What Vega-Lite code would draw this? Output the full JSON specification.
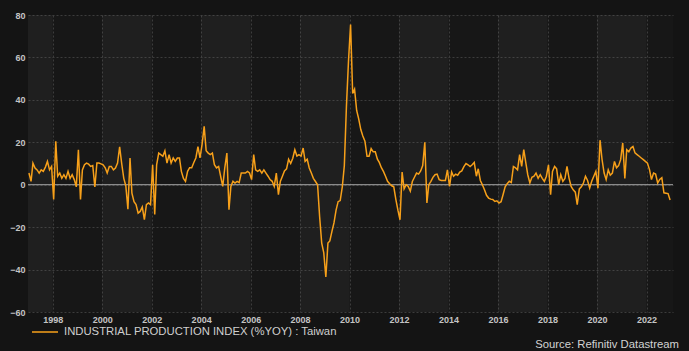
{
"$schema": "https://vega.github.io/schema/vega-lite/v6.json",
"width": 645, "height": 297,
"autosize": {"type": "none"},
"padding": {"left": 28, "top": 15, "right": 16, "bottom": 39},
"background": "#141414",
"config": {
  "view": {"fill": "#171717", "stroke": null},
  "font": "Liberation Sans",
  "axis": {"labelFont": "Liberation Sans", "labelFontWeight": "bold", "labelFontSize": 9, "labelColor": "#c4c4c4", "ticks": false, "domain": false, "grid": true, "gridColor": "#3c3c3c", "gridDash": [2, 2], "gridWidth": 1, "title": null}
},
"title": {"text": "Source: Refinitiv Datastream", "orient": "bottom", "anchor": "end", "frame": "group", "color": "#d2d2d2", "fontSize": 11.3, "fontWeight": "normal", "font": "Liberation Sans", "offset": 1, "dx": 6},
"datasets": {
  "bands": [
    {"start": "1997-01-01", "end": "1998-01-01"},
    {"start": "2000-01-01", "end": "2002-01-01"},
    {"start": "2004-01-01", "end": "2006-01-01"},
    {"start": "2008-01-01", "end": "2010-01-01"},
    {"start": "2012-01-01", "end": "2014-01-01"},
    {"start": "2016-01-01", "end": "2018-01-01"},
    {"start": "2020-01-01", "end": "2022-01-01"}
  ],
  "ip": [
{"date":"1997-01-15","v":5.5},{"date":"1997-02-15","v":1.6},{"date":"1997-03-15","v":10.2},{"date":"1997-04-15","v":7.9},{"date":"1997-05-15","v":7.0},{"date":"1997-06-15","v":5.5},{"date":"1997-07-15","v":7.0},{"date":"1997-08-15","v":6.3},{"date":"1997-09-15","v":8.3},{"date":"1997-10-15","v":11.0},{"date":"1997-11-15","v":7.0},{"date":"1997-12-15","v":8.6},
{"date":"1998-01-15","v":-7.0},{"date":"1998-02-15","v":20.5},{"date":"1998-03-15","v":4.0},{"date":"1998-04-15","v":5.5},{"date":"1998-05-15","v":3.0},{"date":"1998-06-15","v":4.7},{"date":"1998-07-15","v":3.0},{"date":"1998-08-15","v":6.3},{"date":"1998-09-15","v":3.0},{"date":"1998-10-15","v":4.7},{"date":"1998-11-15","v":2.4},{"date":"1998-12-15","v":-1.0},
{"date":"1999-01-15","v":16.5},{"date":"1999-02-15","v":-7.0},{"date":"1999-03-15","v":7.0},{"date":"1999-04-15","v":9.4},{"date":"1999-05-15","v":10.2},{"date":"1999-06-15","v":9.7},{"date":"1999-07-15","v":8.6},{"date":"1999-08-15","v":9.0},{"date":"1999-09-15","v":-1.1},{"date":"1999-10-15","v":10.2},{"date":"1999-11-15","v":10.2},{"date":"1999-12-15","v":9.8},
{"date":"2000-01-15","v":9.4},{"date":"2000-02-15","v":8.0},{"date":"2000-03-15","v":5.5},{"date":"2000-04-15","v":8.6},{"date":"2000-05-15","v":8.6},{"date":"2000-06-15","v":7.0},{"date":"2000-07-15","v":7.9},{"date":"2000-08-15","v":10.2},{"date":"2000-09-15","v":17.8},{"date":"2000-10-15","v":10.0},{"date":"2000-11-15","v":3.0},{"date":"2000-12-15","v":-0.5},
{"date":"2001-01-15","v":-11.5},{"date":"2001-02-15","v":12.6},{"date":"2001-03-15","v":-4.0},{"date":"2001-04-15","v":-8.0},{"date":"2001-05-15","v":-9.4},{"date":"2001-06-15","v":-13.4},{"date":"2001-07-15","v":-12.6},{"date":"2001-08-15","v":-10.5},{"date":"2001-09-15","v":-16.5},{"date":"2001-10-15","v":-9.4},{"date":"2001-11-15","v":-8.6},{"date":"2001-12-15","v":-9.4},
{"date":"2002-01-15","v":9.4},{"date":"2002-02-15","v":-14.0},{"date":"2002-03-15","v":9.4},{"date":"2002-04-15","v":14.9},{"date":"2002-05-15","v":14.2},{"date":"2002-06-15","v":13.4},{"date":"2002-07-15","v":16.0},{"date":"2002-08-15","v":10.2},{"date":"2002-09-15","v":14.2},{"date":"2002-10-15","v":10.2},{"date":"2002-11-15","v":12.6},{"date":"2002-12-15","v":11.0},
{"date":"2003-01-15","v":12.6},{"date":"2003-02-15","v":12.6},{"date":"2003-03-15","v":6.3},{"date":"2003-04-15","v":3.0},{"date":"2003-05-15","v":1.6},{"date":"2003-06-15","v":6.3},{"date":"2003-07-15","v":8.0},{"date":"2003-08-15","v":8.0},{"date":"2003-09-15","v":10.5},{"date":"2003-10-15","v":12.6},{"date":"2003-11-15","v":18.0},{"date":"2003-12-15","v":12.6},
{"date":"2004-01-15","v":19.0},{"date":"2004-02-15","v":27.5},{"date":"2004-03-15","v":16.0},{"date":"2004-04-15","v":14.9},{"date":"2004-05-15","v":14.2},{"date":"2004-06-15","v":14.9},{"date":"2004-07-15","v":9.4},{"date":"2004-08-15","v":7.9},{"date":"2004-09-15","v":8.6},{"date":"2004-10-15","v":4.0},{"date":"2004-11-15","v":-0.8},{"date":"2004-12-15","v":7.9},
{"date":"2005-01-15","v":14.9},{"date":"2005-02-15","v":-11.8},{"date":"2005-03-15","v":-0.8},{"date":"2005-04-15","v":1.6},{"date":"2005-05-15","v":0.8},{"date":"2005-06-15","v":1.6},{"date":"2005-07-15","v":1.0},{"date":"2005-08-15","v":5.5},{"date":"2005-09-15","v":5.5},{"date":"2005-10-15","v":5.5},{"date":"2005-11-15","v":6.3},{"date":"2005-12-15","v":5.5},
{"date":"2006-01-15","v":2.4},{"date":"2006-02-15","v":14.2},{"date":"2006-03-15","v":7.0},{"date":"2006-04-15","v":6.3},{"date":"2006-05-15","v":7.0},{"date":"2006-06-15","v":5.5},{"date":"2006-07-15","v":7.0},{"date":"2006-08-15","v":5.5},{"date":"2006-09-15","v":4.0},{"date":"2006-10-15","v":2.4},{"date":"2006-11-15","v":1.6},{"date":"2006-12-15","v":-0.8},
{"date":"2007-01-15","v":5.5},{"date":"2007-02-15","v":-4.7},{"date":"2007-03-15","v":1.5},{"date":"2007-04-15","v":4.0},{"date":"2007-05-15","v":6.5},{"date":"2007-06-15","v":7.5},{"date":"2007-07-15","v":12.0},{"date":"2007-08-15","v":10.0},{"date":"2007-09-15","v":12.5},{"date":"2007-10-15","v":16.5},{"date":"2007-11-15","v":13.5},{"date":"2007-12-15","v":14.2},
{"date":"2008-01-15","v":13.5},{"date":"2008-02-15","v":17.3},{"date":"2008-03-15","v":11.0},{"date":"2008-04-15","v":12.0},{"date":"2008-05-15","v":7.9},{"date":"2008-06-15","v":5.5},{"date":"2008-07-15","v":3.0},{"date":"2008-08-15","v":1.5},{"date":"2008-09-15","v":0.0},{"date":"2008-10-15","v":-15.0},{"date":"2008-11-15","v":-27.5},{"date":"2008-12-15","v":-32.0},
{"date":"2009-01-15","v":-43.5},{"date":"2009-02-15","v":-27.5},{"date":"2009-03-15","v":-26.5},{"date":"2009-04-15","v":-22.0},{"date":"2009-05-15","v":-18.0},{"date":"2009-06-15","v":-12.0},{"date":"2009-07-15","v":-8.0},{"date":"2009-08-15","v":-7.5},{"date":"2009-09-15","v":-1.0},{"date":"2009-10-15","v":9.0},{"date":"2009-11-15","v":37.0},{"date":"2009-12-15","v":58.0},
{"date":"2010-01-15","v":75.5},{"date":"2010-02-15","v":43.0},{"date":"2010-03-15","v":45.0},{"date":"2010-04-15","v":35.0},{"date":"2010-05-15","v":31.0},{"date":"2010-06-15","v":26.0},{"date":"2010-07-15","v":23.0},{"date":"2010-08-15","v":20.5},{"date":"2010-09-15","v":13.4},{"date":"2010-10-15","v":13.4},{"date":"2010-11-15","v":17.0},{"date":"2010-12-15","v":15.5},
{"date":"2011-01-15","v":15.5},{"date":"2011-02-15","v":12.0},{"date":"2011-03-15","v":10.5},{"date":"2011-04-15","v":8.0},{"date":"2011-05-15","v":6.3},{"date":"2011-06-15","v":4.0},{"date":"2011-07-15","v":1.6},{"date":"2011-08-15","v":0.5},{"date":"2011-09-15","v":-0.5},{"date":"2011-10-15","v":-1.0},{"date":"2011-11-15","v":-7.0},{"date":"2011-12-15","v":-12.0},
{"date":"2012-01-15","v":-16.5},{"date":"2012-02-15","v":6.0},{"date":"2012-03-15","v":-2.0},{"date":"2012-04-15","v":0.0},{"date":"2012-05-15","v":-0.8},{"date":"2012-06-15","v":-3.0},{"date":"2012-07-15","v":1.5},{"date":"2012-08-15","v":3.5},{"date":"2012-09-15","v":5.5},{"date":"2012-10-15","v":5.0},{"date":"2012-11-15","v":6.5},{"date":"2012-12-15","v":9.0},
{"date":"2013-01-15","v":20.0},{"date":"2013-02-15","v":-8.6},{"date":"2013-03-15","v":0.0},{"date":"2013-04-15","v":1.6},{"date":"2013-05-15","v":3.5},{"date":"2013-06-15","v":4.7},{"date":"2013-07-15","v":5.0},{"date":"2013-08-15","v":2.4},{"date":"2013-09-15","v":2.0},{"date":"2013-10-15","v":2.0},{"date":"2013-11-15","v":2.0},{"date":"2013-12-15","v":7.0},
{"date":"2014-01-15","v":-0.8},{"date":"2014-02-15","v":6.0},{"date":"2014-03-15","v":4.0},{"date":"2014-04-15","v":5.0},{"date":"2014-05-15","v":4.5},{"date":"2014-06-15","v":6.0},{"date":"2014-07-15","v":6.5},{"date":"2014-08-15","v":8.5},{"date":"2014-09-15","v":10.0},{"date":"2014-10-15","v":9.4},{"date":"2014-11-15","v":8.6},{"date":"2014-12-15","v":9.4},
{"date":"2015-01-15","v":10.5},{"date":"2015-02-15","v":4.0},{"date":"2015-03-15","v":7.5},{"date":"2015-04-15","v":2.0},{"date":"2015-05-15","v":0.0},{"date":"2015-06-15","v":-2.4},{"date":"2015-07-15","v":-5.0},{"date":"2015-08-15","v":-6.3},{"date":"2015-09-15","v":-6.8},{"date":"2015-10-15","v":-7.0},{"date":"2015-11-15","v":-7.9},{"date":"2015-12-15","v":-7.6},
{"date":"2016-01-15","v":-8.6},{"date":"2016-02-15","v":-8.0},{"date":"2016-03-15","v":-4.7},{"date":"2016-04-15","v":-1.0},{"date":"2016-05-15","v":0.5},{"date":"2016-06-15","v":1.6},{"date":"2016-07-15","v":1.0},{"date":"2016-08-15","v":8.6},{"date":"2016-09-15","v":8.0},{"date":"2016-10-15","v":7.0},{"date":"2016-11-15","v":14.2},{"date":"2016-12-15","v":8.6},
{"date":"2017-01-15","v":16.5},{"date":"2017-02-15","v":10.2},{"date":"2017-03-15","v":4.7},{"date":"2017-04-15","v":0.8},{"date":"2017-05-15","v":3.5},{"date":"2017-06-15","v":4.0},{"date":"2017-07-15","v":5.5},{"date":"2017-08-15","v":3.0},{"date":"2017-09-15","v":4.7},{"date":"2017-10-15","v":3.0},{"date":"2017-11-15","v":1.6},{"date":"2017-12-15","v":4.0},
{"date":"2018-01-15","v":9.4},{"date":"2018-02-15","v":-4.7},{"date":"2018-03-15","v":6.3},{"date":"2018-04-15","v":8.6},{"date":"2018-05-15","v":7.5},{"date":"2018-06-15","v":0.0},{"date":"2018-07-15","v":4.7},{"date":"2018-08-15","v":1.6},{"date":"2018-09-15","v":3.0},{"date":"2018-10-15","v":8.6},{"date":"2018-11-15","v":3.0},{"date":"2018-12-15","v":-0.8},
{"date":"2019-01-15","v":-2.4},{"date":"2019-02-15","v":-3.5},{"date":"2019-03-15","v":-9.4},{"date":"2019-04-15","v":-2.0},{"date":"2019-05-15","v":-1.0},{"date":"2019-06-15","v":0.8},{"date":"2019-07-15","v":4.0},{"date":"2019-08-15","v":2.0},{"date":"2019-09-15","v":-1.6},{"date":"2019-10-15","v":1.6},{"date":"2019-11-15","v":4.0},{"date":"2019-12-15","v":6.3},
{"date":"2020-01-15","v":-1.6},{"date":"2020-02-15","v":21.0},{"date":"2020-03-15","v":12.0},{"date":"2020-04-15","v":5.5},{"date":"2020-05-15","v":2.4},{"date":"2020-06-15","v":7.0},{"date":"2020-07-15","v":4.5},{"date":"2020-08-15","v":5.5},{"date":"2020-09-15","v":11.0},{"date":"2020-10-15","v":8.0},{"date":"2020-11-15","v":9.0},{"date":"2020-12-15","v":11.8},
{"date":"2021-01-15","v":19.7},{"date":"2021-02-15","v":3.0},{"date":"2021-03-15","v":16.5},{"date":"2021-04-15","v":15.5},{"date":"2021-05-15","v":17.3},{"date":"2021-06-15","v":18.0},{"date":"2021-07-15","v":15.0},{"date":"2021-08-15","v":14.2},{"date":"2021-09-15","v":13.4},{"date":"2021-10-15","v":12.6},{"date":"2021-11-15","v":11.8},{"date":"2021-12-15","v":11.0},
{"date":"2022-01-15","v":10.2},{"date":"2022-02-15","v":7.0},{"date":"2022-03-15","v":2.4},{"date":"2022-04-15","v":5.5},{"date":"2022-05-15","v":5.0},{"date":"2022-06-15","v":0.8},{"date":"2022-07-15","v":2.5},{"date":"2022-08-15","v":3.3},{"date":"2022-09-15","v":-3.8},{"date":"2022-10-15","v":-4.0},{"date":"2022-11-15","v":-4.2},{"date":"2022-12-15","v":-7.2}
  ]
},
"layer": [
  {
    "data": {"name": "bands"},
    "mark": {"type": "rect", "fill": "#ffffff", "fillOpacity": 0.035},
    "encoding": {
      "x": {"field": "start", "type": "temporal",
        "scale": {"type": "utc", "domain": [{"year": 1997, "month": 1, "date": 1, "utc": true}, {"year": 2023, "month": 1, "date": 27, "utc": true}]},
        "axis": {"format": "%Y", "labelPadding": 3, "labelFlush": false, "labelOverlap": false,
          "values": [{"year":1998,"utc":true},{"year":2000,"utc":true},{"year":2002,"utc":true},{"year":2004,"utc":true},{"year":2006,"utc":true},{"year":2008,"utc":true},{"year":2010,"utc":true},{"year":2012,"utc":true},{"year":2014,"utc":true},{"year":2016,"utc":true},{"year":2018,"utc":true},{"year":2020,"utc":true},{"year":2022,"utc":true}]}},
      "x2": {"field": "end"}
    }
  },
  {
    "data": {"values": [{}]},
    "mark": {"type": "rule", "color": "#a8a8a8", "strokeWidth": 1},
    "encoding": {"y": {"datum": 0, "type": "quantitative"}}
  },
  {
    "data": {"name": "ip"},
    "mark": {"type": "line", "strokeWidth": 1.5, "interpolate": "linear"},
    "encoding": {
      "x": {"field": "date", "type": "temporal"},
      "y": {"field": "v", "type": "quantitative",
        "scale": {"domain": [-60, 80], "nice": false, "zero": false},
        "axis": {"values": [-60, -40, -20, 0, 20, 40, 60, 80], "labelPadding": 3, "labelFlush": false}},
      "stroke": {"datum": "INDUSTRIAL PRODUCTION INDEX (%YOY) : Taiwan", "type": "nominal",
        "scale": {"range": ["#f7a01a"]},
        "legend": {"orient": "none", "legendX": 3, "legendY": 303, "title": null, "padding": 0,
          "symbolType": "stroke", "symbolSize": 676, "symbolStrokeWidth": 1.5, "symbolStrokeColor": "#f7a01a",
          "labelFontSize": 11.3, "labelFont": "Liberation Sans", "labelColor": "#cfcfcf", "labelOffset": 5, "labelLimit": 400}}
    }
  }
]
}
